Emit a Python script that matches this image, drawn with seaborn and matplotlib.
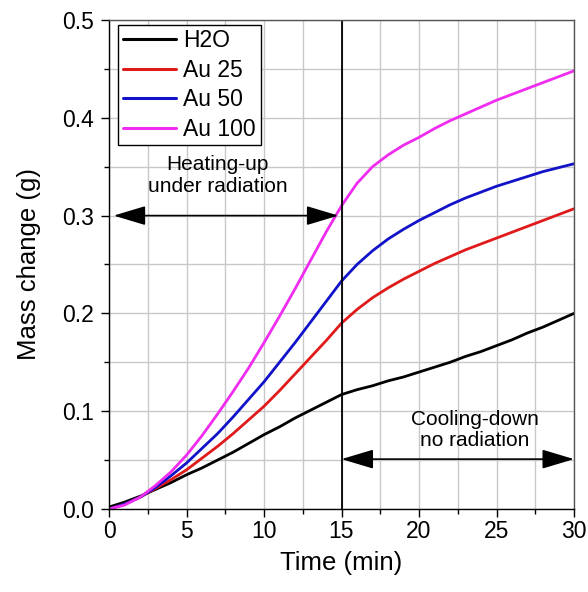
import matplotlib
matplotlib.use("Agg")
import matplotlib.pyplot as plt
from matplotlib.ticker import MultipleLocator, FormatStrFormatter
from matplotlib.lines import Line2D
import seaborn as sns
import pandas as pd

time_min = list(range(0, 31))
h2o = [0.002, 0.007, 0.013, 0.020, 0.027, 0.035, 0.042, 0.050, 0.058, 0.067, 0.076,
       0.084, 0.093, 0.101, 0.109, 0.117, 0.122, 0.126, 0.131, 0.135, 0.140,
       0.145, 0.150, 0.156, 0.161, 0.167, 0.173, 0.180, 0.186, 0.193, 0.200]
au25 = [0.000, 0.005, 0.012, 0.021, 0.030, 0.040, 0.052, 0.064, 0.077, 0.091, 0.105,
        0.121, 0.138, 0.155, 0.172, 0.190, 0.204, 0.216, 0.226, 0.235, 0.243,
        0.251, 0.258, 0.265, 0.271, 0.277, 0.283, 0.289, 0.295, 0.301, 0.307]
au50 = [0.000, 0.005, 0.012, 0.022, 0.034, 0.047, 0.062, 0.077, 0.094, 0.112, 0.130,
        0.150, 0.170, 0.191, 0.212, 0.233, 0.250, 0.264, 0.276, 0.286, 0.295,
        0.303, 0.311, 0.318, 0.324, 0.330, 0.335, 0.340, 0.345, 0.349, 0.353]
au100 = [0.000, 0.004, 0.012, 0.024, 0.038, 0.055, 0.075, 0.097, 0.120, 0.144, 0.170,
         0.197, 0.225, 0.254, 0.283, 0.310, 0.333, 0.350, 0.362, 0.372, 0.380,
         0.389, 0.397, 0.404, 0.411, 0.418, 0.424, 0.430, 0.436, 0.442, 0.448]
series_names = ["H2O", "Au 25", "Au 50", "Au 100"]
series_colors = ["#000000", "#e01a1a", "#1212c8", "#f02cf0"]

rows = []
for name, vals in zip(series_names, [h2o, au25, au50, au100]):
    for t, v in zip(time_min, vals):
        rows.append({"Time": t, "Mass": v, "Sample": name})
df = pd.DataFrame(rows)

sns.set_style("ticks")
plt.rcParams["font.family"] = ["Liberation Sans", "DejaVu Sans"]
plt.rcParams["text.color"] = "black"
plt.rcParams["axes.labelcolor"] = "black"

fig = plt.figure(figsize=(5.88, 5.92), dpi=100)
ax = fig.add_axes([109/588, 1-509/592, (574-109)/588, (509-20)/592])

sns.lineplot(data=df, x="Time", y="Mass", hue="Sample", hue_order=series_names,
             palette=series_colors, linewidth=2.0, ax=ax, legend=False)

ax.set_xlim(0, 30)
ax.set_ylim(0, 0.5)
ax.xaxis.set_major_locator(MultipleLocator(5))
ax.xaxis.set_minor_locator(MultipleLocator(2.5))
ax.yaxis.set_major_locator(MultipleLocator(0.1))
ax.yaxis.set_minor_locator(MultipleLocator(0.05))
ax.yaxis.set_major_formatter(FormatStrFormatter("%.1f"))
ax.grid(True, which="both", color="#c8c8c8", linewidth=1.0)
ax.set_axisbelow(True)
ax.tick_params(which="major", direction="out", length=5.5, width=1, labelsize=16.5,
               colors="black", pad=2.5)
ax.tick_params(axis="y", which="major", pad=5.5)
ax.tick_params(which="minor", direction="out", length=3.5, width=1, colors="black")
for s in ax.spines.values():
    s.set_color("#555555")
    s.set_linewidth(1.0)
ax.spines["left"].set_color("black")
ax.spines["bottom"].set_color("black")

ax.set_xlabel("Time (min)", fontsize=18.5, labelpad=6, color="black")
ax.set_ylabel("Mass change (g)", fontsize=18.5, labelpad=15, color="black")

ax.axvline(15, color="black", linewidth=1.3)

arrow_kw = dict(arrowstyle="<|-|>,head_length=1.0,head_width=0.3", color="black",
                lw=1.2, mutation_scale=20, shrinkA=0, shrinkB=0)
ax.annotate("", xy=(0.3, 0.3), xytext=(14.8, 0.3), arrowprops=arrow_kw)
ax.annotate("", xy=(15, 0.051), xytext=(30, 0.051), arrowprops=arrow_kw)
ax.text(7.0, 0.341, "Heating-up\nunder radiation", ha="center", va="center",
        fontsize=15, linespacing=1.15, color="black")
ax.text(23.6, 0.081, "Cooling-down\nno radiation", ha="center", va="center",
        fontsize=15, linespacing=1.15, color="black")

handles = [Line2D([0], [0], color=c, lw=2.2) for c in series_colors]
leg = ax.legend(handles, series_names, loc="upper left", bbox_to_anchor=(0.0194, 0.99),
                fontsize=16.5, frameon=True, fancybox=False, edgecolor="black",
                framealpha=1, handlelength=2.35, handletextpad=0.3,
                labelspacing=0.28, borderpad=0.2, borderaxespad=0)
leg.get_frame().set_linewidth(1.0)
for t in leg.get_texts():
    t.set_color("black")

fig.savefig("out.png", dpi=100)
